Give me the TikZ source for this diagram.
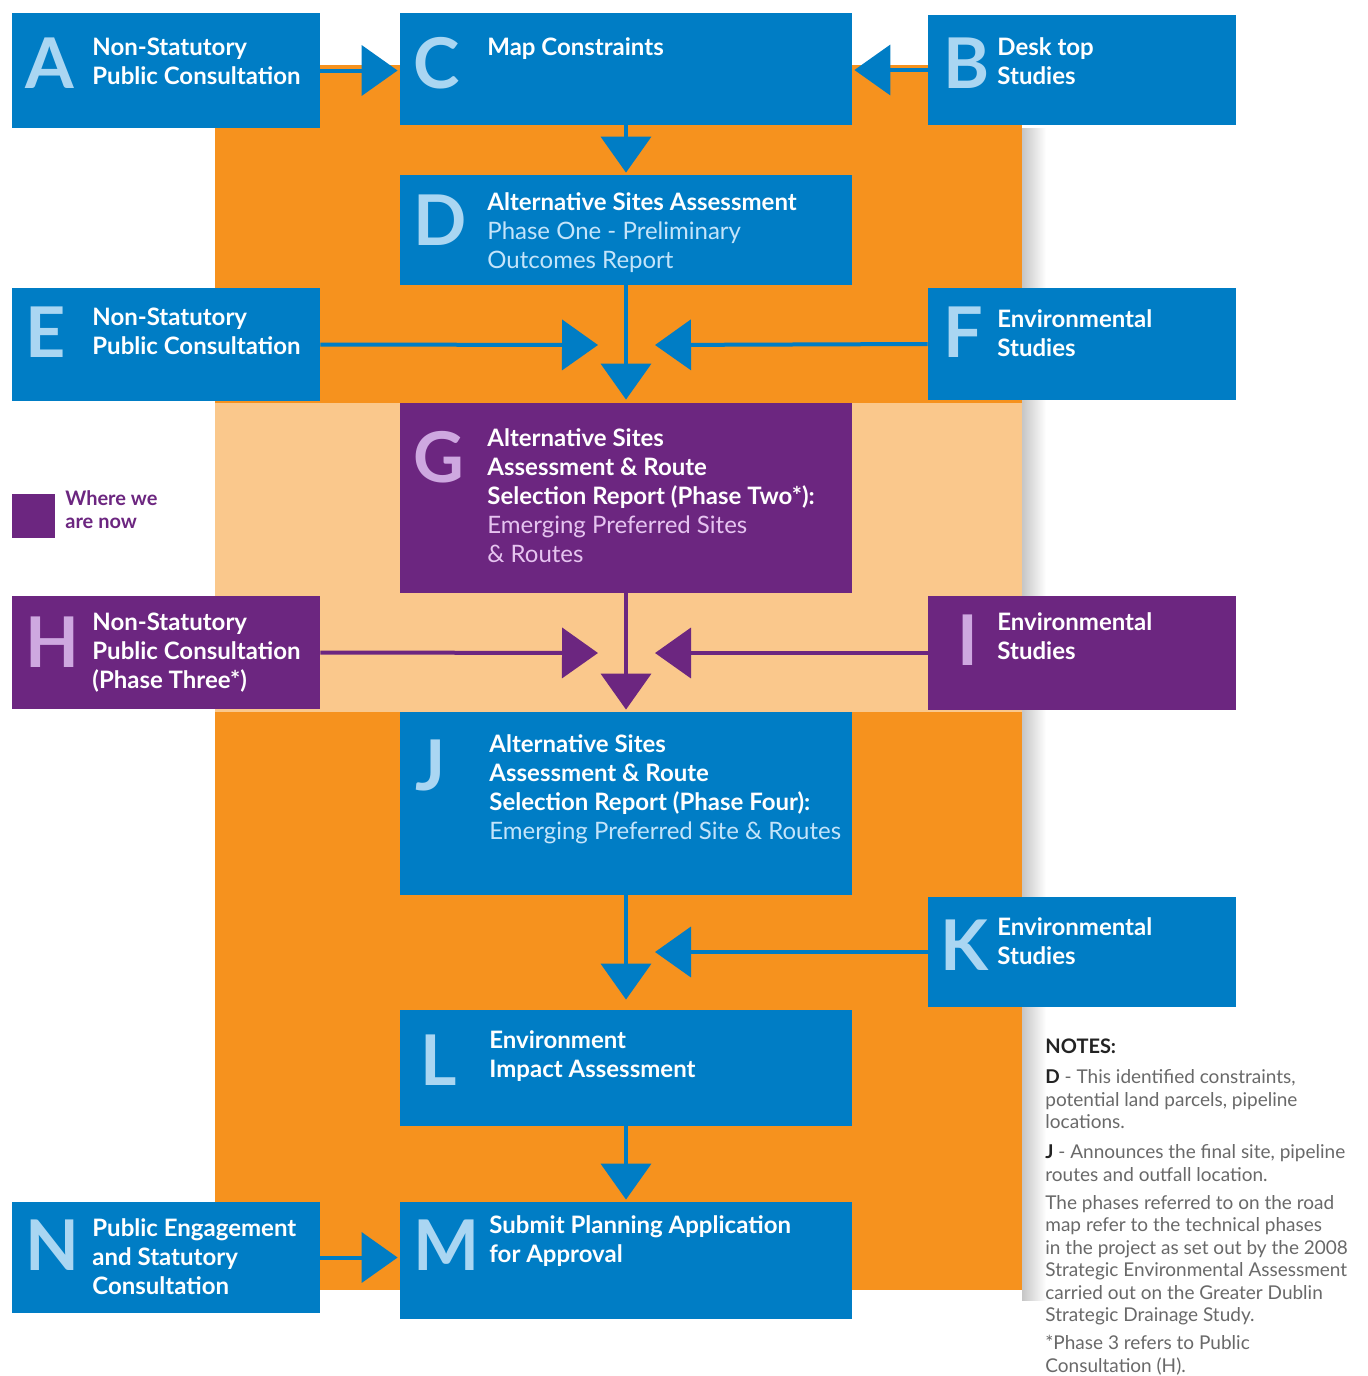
\documentclass[tikz,border=0pt]{standalone}
\usepackage{fontspec}
\setmainfont{Lato}
\usetikzlibrary{arrows.meta,fit}
\definecolor{stepblue}{RGB}{0,125,197}
\definecolor{steporange}{RGB}{246,146,30}
\definecolor{steppeach}{RGB}{250,200,140}
\definecolor{stepviolet}{RGB}{108,38,128}
\definecolor{bluelet}{RGB}{170,214,242}
\definecolor{violetlet}{RGB}{206,168,224}
\definecolor{bluesub}{RGB}{196,228,250}
\definecolor{violetsub}{RGB}{230,196,240}
\definecolor{notegrey}{RGB}{105,105,105}
\definecolor{notedark}{RGB}{35,35,35}
\newcommand{\subb}{\mdseries\color{bluesub}}
\newcommand{\subv}{\mdseries\color{violetsub}}
\begin{document}
\begin{tikzpicture}[x=0.5pt,y=-0.5pt,line join=round,
  blk/.style={fill=stepblue,inner sep=0},
  vlt/.style={fill=stepviolet,inner sep=0},
  letter/.style={anchor=base west,inner sep=0,text=bluelet,font=\fontsize{35}{35}\selectfont\bfseries},
  vletter/.style={letter,text=violetlet},
  title/.style={anchor=base west,inner sep=0,align=left,text=white,font=\fontsize{12}{14.5}\selectfont\bfseries},
  flowb/.style={draw=stepblue,line width=2pt,-{Triangle[length=18pt,width=25pt]}},
  flowv/.style={flowb,draw=stepviolet}]
\fill[white](0,0)rectangle(1368,1376);
\useasboundingbox(0,0)rectangle(1368,1376);
% background bands
\fill[steporange](215,65)rectangle(1022,1290);
\fill[steppeach](215,403)rectangle(1022,712);
\shade[left color=gray!45,right color=white](1022,128)rectangle(1046,1300);
% boxes
\node[blk,fit={(12,13)(320,128)}](A){};
\node[blk,fit={(400,13)(852,125)}](C){};
\node[blk,fit={(928,15)(1236,125)}](B){};
\node[blk,fit={(400,175)(852,285)}](D){};
\node[blk,fit={(12,288)(320,401)}](E){};
\node[blk,fit={(928,288)(1236,400)}](F){};
\node[vlt,fit={(400,403)(852,593)}](G){};
\node[vlt,fit={(12,596)(320,709)}](H){};
\node[vlt,fit={(928,596)(1236,710)}](I){};
\node[blk,fit={(400,712)(852,895)}](J){};
\node[blk,fit={(928,897)(1236,1007)}](K){};
\node[blk,fit={(400,1010)(852,1126)}](L){};
\node[blk,fit={(12,1202)(320,1313)}](N){};
\node[blk,fit={(400,1202)(852,1319)}](M){};
% letters
\node[letter](A-l)at(25,88){A};
\node[letter](C-l)at(413,88){C};
\node[letter](B-l)at(943,88){B};
\node[letter](D-l)at(413,245){D};
\node[letter](E-l)at(25,357){E};
\node[letter](F-l)at(943,357){F};
\node[vletter](G-l)at(413,482){G};
\node[vletter](H-l)at(25,667){H};
\node[vletter](I-l)at(957,665){I};
\node[letter](J-l)at(415,790){J};
\node[letter](K-l)at(940,970){K};
\node[letter](L-l)at(420,1085){L};
\node[letter](M-l)at(413,1270){M};
\node[letter](N-l)at(25,1270){N};
% titles (placed at the baseline of their last line)
\node[title](A-t)at(92,84){Non-Statutory\\Public Consultation};
\node[title](C-t)at(487,55){Map Constraints};
\node[title](B-t)at(997,84){Desk top\\Studies};
\node[title](D-t)at(487,268){Alternative Sites Assessment\\{\subb Phase One - Preliminary}\\{\subb Outcomes Report}};
\node[title](E-t)at(92,354){Non-Statutory\\Public Consultation};
\node[title](F-t)at(997,356){Environmental\\Studies};
\node[title](G-t)at(487,562){Alternative Sites\\Assessment \& Route\\Selection Report (Phase Two*):\\{\subv Emerging Preferred Sites}\\{\subv \& Routes}};
\node[title](H-t)at(92,688){Non-Statutory\\Public Consultation\\(Phase Three*)};
\node[title](I-t)at(997,659){Environmental\\Studies};
\node[title](J-t)at(489,839){Alternative Sites\\Assessment \& Route\\Selection Report (Phase Four):\\{\subb Emerging Preferred Site \& Routes}};
\node[title](K-t)at(997,964){Environmental\\Studies};
\node[title](L-t)at(489,1077){Environment\\Impact Assessment};
\node[title](M-t)at(489,1262){Submit Planning Application\\for Approval};
\node[title](N-t)at(92,1294){Public Engagement\\and Statutory\\Consultation};
% legend
\node[vlt,fit={(12,494)(55,538)}](now){};
\node[anchor=base west,inner sep=0,align=left,text=stepviolet,font=\fontsize{10}{11.5}\selectfont\bfseries](now-t)at(65,528){Where we\\are now};
% free ends of the side arrows
\coordinate(eD)at(598,345);\coordinate(fD)at(655,345);
\coordinate(hG)at(598,653);\coordinate(iG)at(655,653);
\coordinate(kJ)at(655,952);
% arrows
\draw[flowb,shorten >=1pt](A.east)--(A.east-|C.west);
\draw[flowb,shorten >=1pt](B.west)--(B.west-|C.east);
\draw[flowb,shorten >=1pt](C.south)--(D.north);
\draw[flowb,shorten >=1.5pt](D.south)--(G.north);
\draw[flowb](E.east)--(eD);
\draw[flowb](F.west)--(fD);
\draw[flowv,shorten >=1pt](G.south)--(J.north);
\draw[flowv](H.east)--(hG);
\draw[flowv](I.west)--(iG);
\draw[flowb,shorten >=5pt](J.south)--(L.north);
\draw[flowb](K.west)--(kJ);
\draw[flowb,shorten >=1pt](L.south)--(M.north);
\draw[flowb,shorten >=1pt](N.east)--(N.east-|M.west);
% notes
\node[anchor=base west,inner sep=0,align=left,text=notegrey,font=\fontsize{9.5}{11.25}\selectfont](notes)at(1045,1372){%
{\color{notedark}\bfseries\fontsize{10}{11.25}\selectfont NOTES:}\\[3.75pt]
{\color{notedark}\bfseries D} - This identified constraints,\\
potential land parcels, pipeline\\
locations.\\[3.75pt]
{\color{notedark}\bfseries J} - Announces the final site, pipeline\\
routes and outfall location.\\[2.75pt]
The phases referred to on the road\\
map refer to the technical phases\\
in the project as set out by the 2008\\
Strategic Environmental Assessment\\
carried out on the Greater Dublin\\
Strategic Drainage Study.\\[2.75pt]
*Phase 3 refers to Public\\
Consultation (H).};
\end{tikzpicture}
\end{document}
